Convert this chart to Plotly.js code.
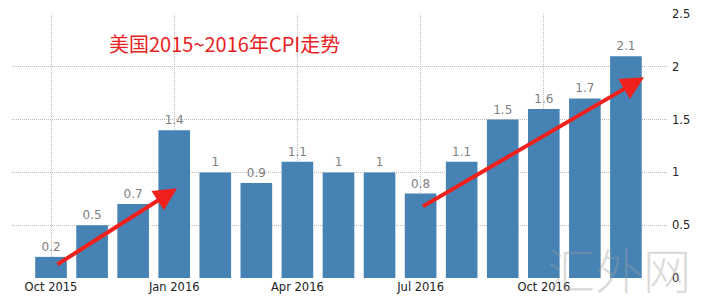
<!DOCTYPE html>
<html><head><meta charset="utf-8">
<script src="https://cdn.plot.ly/plotly-3.0.1.min.js"></script>
<style>html,body{margin:0;padding:0;background:#fff;}#chart{width:712px;height:307px;}</style>
</head><body><div id="chart"></div>
<script>
const months = ["2015-10","2015-11","2015-12","2016-01","2016-02","2016-03","2016-04","2016-05","2016-06","2016-07","2016-08","2016-09","2016-10","2016-11","2016-12"];
const cpi = [0.2,0.5,0.7,1.4,1,0.9,1.1,1,1,0.8,1.1,1.5,1.6,1.7,2.1];
const tickMonths = ["2015-10","2016-01","2016-04","2016-07","2016-10"];
const tickLabels = ["Oct 2015","Jan 2016","Apr 2016","Jul 2016","Oct 2016"];
const yTicks = [0,0.5,1,1.5,2,2.5];
const titleText = "美国2015~2016年CPI走势";

const trace = {
  type:'bar', x:months, y:cpi,
  marker:{color:'#4682b4'},
  text:cpi.map(String), textposition:'outside', cliponaxis:false,
  textfont:{family:'DejaVu Sans, sans-serif', size:12, color:'#808080'},
  hoverinfo:'none'
};
const arrowStyle = {showarrow:true, arrowhead:2, arrowsize:1.15, arrowwidth:4, arrowcolor:'#f0201c', text:'', axref:'x', ayref:'y', xref:'x', yref:'y'};
const layout = {
  width:712, height:307,
  margin:{l:12, r:45, t:14, b:29},
  paper_bgcolor:'#fff', plot_bgcolor:'#fff',
  bargap:0.23, showlegend:false,
  xaxis:{type:'category', range:[-0.95,15], tickvals:tickMonths, ticktext:tickLabels,
    showgrid:true, gridcolor:'#bdbdbd', griddash:'1px,1px', gridwidth:1, zeroline:false, showline:false,
    ticks:'', tickfont:{family:'DejaVu Sans, sans-serif', size:11.5, color:'#222'}},
  yaxis:{side:'right', range:[0,2.5], tickvals:yTicks, ticktext:yTicks.map(String),
    showgrid:true, gridcolor:'#bdbdbd', griddash:'1px,1px', gridwidth:1, zeroline:false, showline:false,
    ticks:'', ticklabelstandoff:4, tickfont:{family:'DejaVu Sans, sans-serif', size:11.5, color:'#222'}},
  annotations:[
    {xref:'paper', yref:'paper', x:(107-12)/655, y:(278-43)/264, xanchor:'left', yanchor:'middle', showarrow:false,
     text:titleText, font:{family:'Noto Sans CJK SC, sans-serif', size:20, color:'#e8231f'}},
    Object.assign({}, arrowStyle, {x:3.07, y:0.85, ax:0.12, ay:0.12}),
    Object.assign({}, arrowStyle, {x:14.44, y:1.90, ax:9.02, ay:0.67}),
    {xref:'paper', yref:'paper', x:(619-12)/655, y:(278-268)/264, xanchor:'center', yanchor:'middle', showarrow:false,
     text:'汇外网', font:{family:'Noto Sans CJK SC, sans-serif', size:48, weight:300, color:'rgba(160,160,160,0.4)'}}
  ]
};
Plotly.newPlot('chart',[trace],layout,{staticPlot:true, displayModeBar:false});
</script></body></html>
